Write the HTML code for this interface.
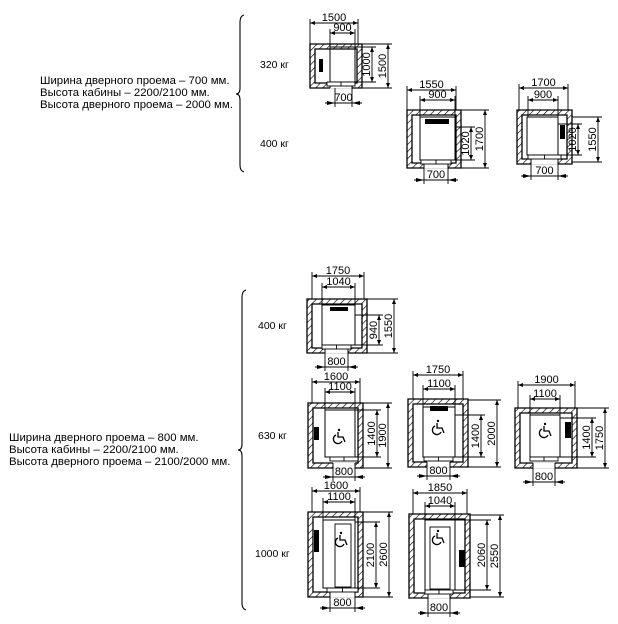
<!DOCTYPE html>
<html><head><meta charset="utf-8"><style>
html,body{margin:0;padding:0;background:#fff}
svg{display:block}
text{font-family:"Liberation Sans",sans-serif;fill:#000}
</style></head><body>
<svg id="s" width="618" height="624" viewBox="0 0 618 624" xmlns="http://www.w3.org/2000/svg">
<defs>
<pattern id="h" patternUnits="userSpaceOnUse" width="5" height="5" patternTransform="rotate(45)">
<rect width="5" height="5" fill="#fff"/><line x1="0" y1="0" x2="0" y2="5" stroke="#000" stroke-width="1.3"/>
</pattern>
<marker id="a" viewBox="0 0 10 10" refX="10" refY="5" markerWidth="6" markerHeight="5" orient="auto-start-reverse" markerUnits="userSpaceOnUse"><path d="M0,1L10,5L0,9z" fill="#000"/></marker>
</defs>
<g font-size="11.4">
<text x="40" y="84">Ширина дверного проема – 700 мм.</text>
<text x="40" y="96">Высота кабины – 2200/2100 мм.</text>
<text x="40" y="108">Высота дверного проема – 2000 мм.</text>
<text x="9" y="441">Ширина дверного проема – 800 мм.</text>
<text x="9" y="453">Высота кабины – 2200/2100 мм.</text>
<text x="9" y="465">Высота дверного проема – 2100/2000 мм.</text>
</g>
<g font-size="10.5">
<text x="260" y="68">320 кг</text>
<text x="260" y="147">400 кг</text>
<text x="258" y="329">400 кг</text>
<text x="258" y="439">630 кг</text>
<text x="255" y="557">1000 кг</text>
</g>
<path d="M244,15 Q240,16 240,22 L240,88 Q240,94 236,94 Q240,94 240,100 L240,165 Q240,171 244,172" fill="none" stroke="#000" stroke-width="1.1"/>
<path d="M246,290 Q242,291 242,297 L242,444 Q242,450 238,450 Q242,450 242,456 L242,603 Q242,609 246,610" fill="none" stroke="#000" stroke-width="1.1"/>
<g id="d" stroke="#000" fill="none" stroke-width="1"></g>
</svg>
<script>
var g=document.getElementById('d'),NS='http://www.w3.org/2000/svg';
function el(t,a,txt){var e=document.createElementNS(NS,t);for(var k in a)e.setAttribute(k,a[k]);if(txt!==undefined)e.textContent=txt;g.appendChild(e);return e;}
function L(x1,y1,x2,y2,w){el('line',{x1:x1,y1:y1,x2:x2,y2:y2,'stroke-width':w||0.9});}
function A(x1,y1,x2,y2){el('line',{x1:x1,y1:y1,x2:x2,y2:y2,'stroke-width':0.9,'marker-start':'url(#a)','marker-end':'url(#a)'});}
function T(x,y,s,rot){var a={x:x,y:y,'font-size':11,'text-anchor':'middle',stroke:'none',fill:'#000'};if(rot)a.transform='rotate(-90 '+x+' '+y+')';el('text',a,s);}
function shaft(o,c,door,bar,wc){
 var w=5,x1=o[0],y1=o[1],x2=o[2],y2=o[3];
 var d='M'+x1+','+y1+'H'+x2+'V'+y2+'H'+x1+'Z M'+(x1+w)+','+(y1+w)+'V'+(y2-w)+'H'+(x2-w)+'V'+(y1+w)+'Z';
 el('path',{d:d,fill:'url(#h)','fill-rule':'evenodd','stroke-width':1.3});
 el('rect',{x:door[0],y:y2-w-0.5,width:door[1]-door[0],height:w+1,fill:'#fff',stroke:'none'});
 L(door[0],y2-w,door[0],y2,1);L(door[1],y2-w,door[1],y2,1);
 el('rect',{x:c[0],y:c[1],width:c[2]-c[0],height:c[3]-c[1],'stroke-width':1});
 el('rect',{x:door[0]-3,y:c[3],width:door[1]-door[0]+6,height:4,'stroke-width':0.9,fill:'#fff'});
 L((door[0]+door[1])/2,c[3],(door[0]+door[1])/2,c[3]+4);
 if(bar)el('rect',{x:bar[0],y:bar[1],width:bar[2],height:bar[3],fill:'#000',stroke:'none'});
 if(wc){var cx=wc[0],cy=wc[1];
  el('circle',{cx:cx,cy:cy-7,r:1.2,fill:'#000',stroke:'none'});
  el('path',{d:'M'+(cx-1)+','+(cy-5)+'V'+cy+'H'+(cx+4)+'L'+(cx+6)+','+(cy+5),'stroke-width':1.3});
  el('path',{d:'M'+(cx-3)+','+(cy-2)+'A4.5,4.5 0 1 0 '+(cx+3)+','+(cy+4),'stroke-width':1.3});}
}
function hd(xa,xb,y,ylim,s){L(xa,y-4,xa,ylim);L(xb,y-4,xb,ylim);A(xa,y,xb,y);T((xa+xb)/2,y-2,s);}
function vd(x,ya,yb,xlim,s){L(x+4,ya,xlim,ya);L(x+4,yb,xlim,yb);A(x,ya,x,yb);T(x-2,(ya+yb)/2,s,1);}
function bd(xa,xb,y,yt,s){L(xa,yt,xa,y+4);L(xb,yt,xb,y+4);L(xa-10,y,xb+10,y);
 el('path',{d:'M'+(xa-8)+','+(y-2)+'L'+xa+','+y+'L'+(xa-8)+','+(y+2)+'z',fill:'#000',stroke:'none'});
 el('path',{d:'M'+(xb+8)+','+(y-2)+'L'+xb+','+y+'L'+(xb+8)+','+(y+2)+'z',fill:'#000',stroke:'none'});
 T((xa+xb)/2,y-2,s);}
shaft([310,44,362,88],[330,47,355,82],[330,352],[319,59,4,13]);
hd(310,358,23,44,'1500');hd(330,355,33,47,'900');vd(372,47,82,355,'1000');vd(388,44,88,362,'1500');bd(335,352,103,88,'700');
shaft([407,110,461,168],[420,117,455,160],[424,448],[425,119,24,5]);
hd(407,456,90,110,'1550');hd(420,455,100,117,'900');vd(471,127,160,455,'1020');vd(485,110,168,461,'1700');bd(424,448,180,168,'700');
shaft([517,110,572,164],[527,117,558,155],[531,558],[560,125,5,14]);
hd(519,568,88,110,'1700');hd(528,558,100,117,'900');vd(578,124,155,558,'1020');vd(598,117,162,572,'1550');bd(531,558,176,164,'700');
shaft([307,299,367,353],[322,305,355,345],[325,348],[330,307,18,4]);
hd(312,364,276,299,'1750');hd(322,355,287,305,'1040');vd(379,315,345,355,'940');vd(394,299,353,367,'1550');bd(325,348,367,353,'800');
shaft([308,403,363,468],[325,410,355,457],[333,355],[314,427,5,13],[339,437]);
hd(312,360,382,403,'1600');hd(325,355,392,410,'1100');vd(377,410,457,355,'1400');vd(388,403,468,363,'1900');bd(333,355,477,468,'800');
shaft([408,399,468,467],[423,407,455,457],[427,450],[430,406,18,5],[438,428]);
hd(413,463,375,399,'1750');hd(423,455,389,407,'1100');vd(481,415,457,455,'1400');vd(497,400,467,468,'2000');bd(427,450,476,467,'800');
shaft([515,408,577,468],[530,415,560,457],[533,555],[565,422,6,16],[545,431]);
hd(518,575,385,408,'1900');hd(530,560,399,415,'1100');vd(592,418,457,560,'1400');vd(605,408,468,577,'1750');bd(533,555,482,468,'800');
shaft([308,512,363,597],[323,520,355,588],[330,355],[314,530,5,22],[341,540]);
el('rect',{x:335,y:524,width:16,height:63,'stroke-width':0.9});
hd(312,360,491,512,'1600');hd(323,355,502,520,'1100');vd(376,522,588,355,'2100');vd(389,512,597,363,'2600');bd(330,355,608,597,'800');
shaft([409,514,470,598],[425,520,455,590],[428,450],[459,550,6,17],[438,538]);
el('rect',{x:430,y:527,width:20,height:62,'stroke-width':0.9});
hd(413,467,493,514,'1850');hd(425,455,506,520,'1040');vd(487,520,590,455,'2060');vd(500,515,597,470,'2550');bd(428,450,613,598,'800');
</script>
</body></html>
